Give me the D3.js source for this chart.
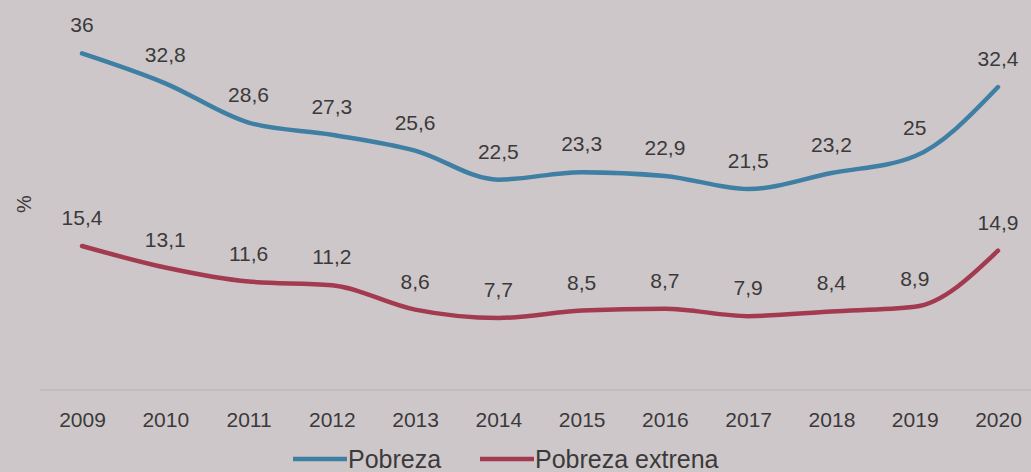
<!DOCTYPE html>
<html>
<head>
<meta charset="utf-8">
<script src="https://cdn.jsdelivr.net/npm/d3@7"></script>
<style>
  body { margin: 0; background: #cec7ca; }
  text { font-family: "Liberation Sans", Arial, sans-serif; fill: #3a3a3a; }
</style>
</head>
<body>
<div id="canvas"></div>
<script>
var width = 1031;
var height = 472;

// data
const years = ["2009","2010","2011","2012","2013","2014","2015","2016","2017","2018","2019","2020"];
const pobreza = [36, 32.8, 28.6, 27.3, 25.6, 22.5, 23.3, 22.9, 21.5, 23.2, 25, 32.4];
const pobrezaExtrema = [15.4, 13.1, 11.6, 11.2, 8.6, 7.7, 8.5, 8.7, 7.9, 8.4, 8.9, 14.9];
const seriesNames = ["Pobreza", "Pobreza extrena"];
const colors = ["#3f7fa4", "#a23a50"];

var svg = d3.select("#canvas").append("svg")
    .attr("width", width)
    .attr("height", height)
    .style("background-color", "#cec7ca");

const x = d3.scalePoint()
    .domain(years)
    .range([82, 998]);

const y = d3.scaleLinear()
    .domain([0, 40])
    .range([390, 16]);

// baseline
svg.append("line")
    .attr("x1", 40).attr("x2", 1031)
    .attr("y1", y(0)).attr("y2", y(0))
    .style("stroke", "#bfb8bb")
    .style("stroke-width", 1.5);

// x axis labels
const xAxis = d3.axisBottom(x).tickSize(0).tickPadding(22);
const gx = svg.append("g").attr("transform", "translate(0," + y(0) + ")").call(xAxis);
gx.select(".domain").remove();
gx.selectAll("text")
    .style("font-size", "21px")
    .style("font-family", "'Liberation Sans', Arial, sans-serif")
    .attr("fill", "#3a3a3a");

// y label
svg.append("text")
    .attr("transform", "translate(31,204) rotate(-90)")
    .attr("text-anchor", "middle")
    .style("font-size", "20px")
    .text("%");

const line = d3.line()
    .x((d, i) => x(years[i]))
    .y(d => y(d))
    .curve(d3.curveMonotoneX);

const fmt = v => String(v).replace(".", ",");

[pobreza, pobrezaExtrema].forEach((vals, k) => {
    svg.append("path")
        .datum(vals)
        .attr("d", line)
        .style("fill", "none")
        .style("stroke", colors[k])
        .style("stroke-width", 4.5)
        .style("stroke-linecap", "round");

    svg.selectAll(".lbl" + k)
        .data(vals)
        .enter().append("text")
        .attr("class", "lbl" + k)
        .attr("x", (d, i) => x(years[i]))
        .attr("y", d => y(d) - 21)
        .attr("text-anchor", "middle")
        .style("font-size", "21px")
        .text(fmt);
});

// legend
const legendX = [293, 480];
seriesNames.forEach((name, k) => {
    svg.append("line")
        .attr("x1", legendX[k]).attr("x2", legendX[k] + 54)
        .attr("y1", 459).attr("y2", 459)
        .style("stroke", colors[k])
        .style("stroke-width", 4.5);
    svg.append("text")
        .attr("x", legendX[k] + 55)
        .attr("y", 468)
        .style("font-size", "25px")
        .text(name);
});
</script>
</body>
</html>
